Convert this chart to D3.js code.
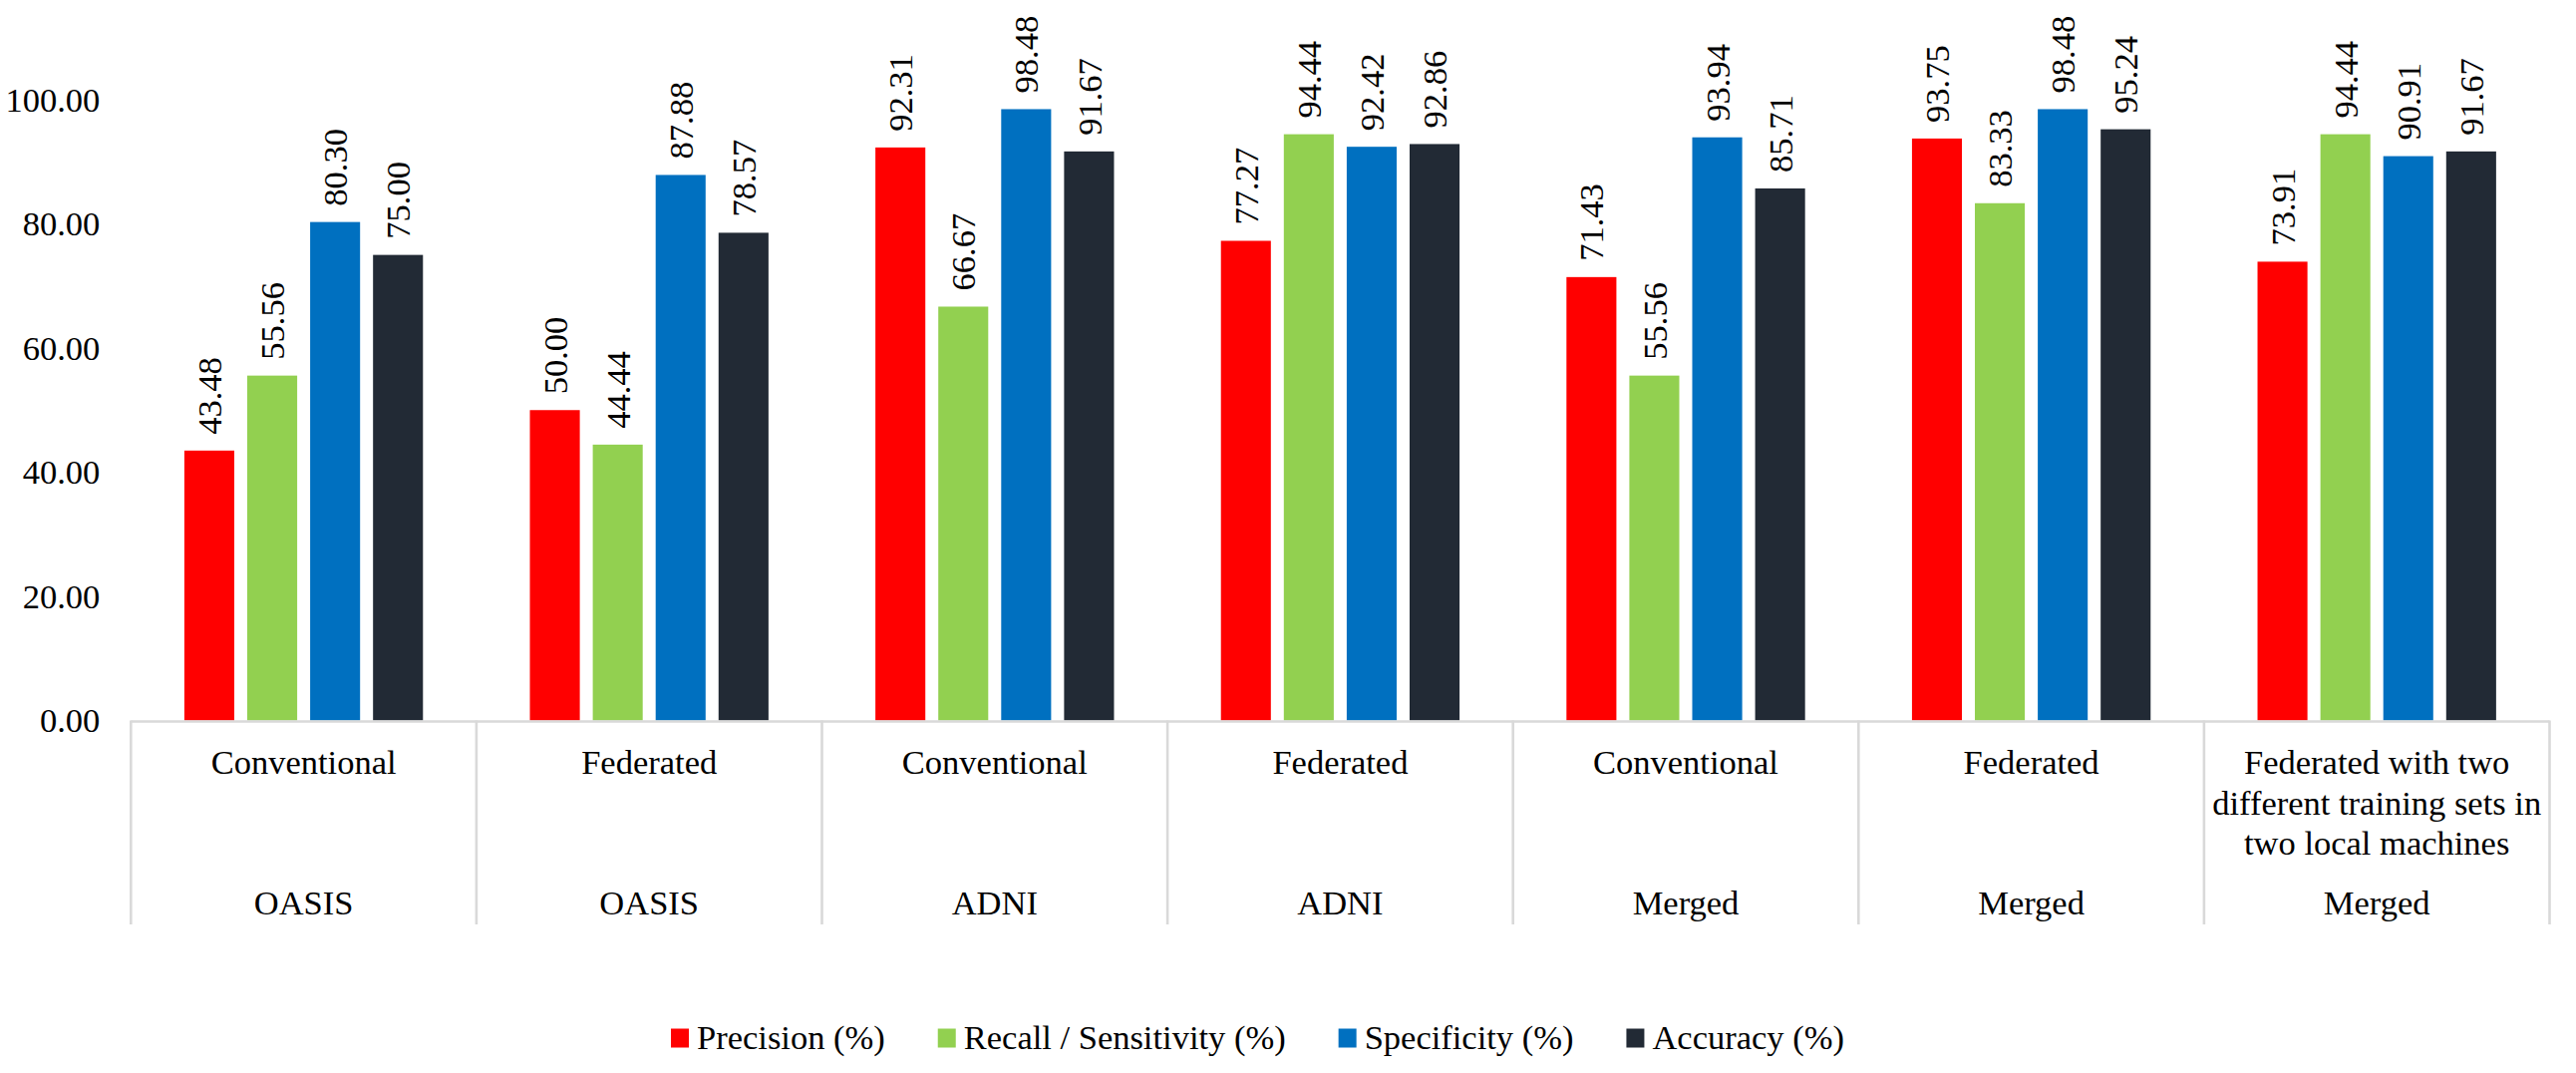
<!DOCTYPE html>
<html>
<head>
<meta charset="utf-8">
<script src="https://cdnjs.cloudflare.com/ajax/libs/d3/7.8.5/d3.min.js"></script>
<style>
  @font-face { font-family: "ChartSerif"; src: local("Liberation Serif"), local("LiberationSerif"), local("Times New Roman"); }
  html, body { margin: 0; padding: 0; background: #fff; }
  svg text { font-family: "Times New Roman", "Liberation Serif", ChartSerif, Tinos, serif; }
</style>
</head>
<body>
<div id="chart"></div>
<script>
// chart values
var methods = ["Conventional", "Federated", "Conventional", "Federated", "Conventional", "Federated",
    "Federated with two different training sets in two local machines"];
var datasets = ["OASIS", "OASIS", "ADNI", "ADNI", "Merged", "Merged", "Merged"];
var seriesNames = ["Precision (%)", "Recall / Sensitivity (%)", "Specificity (%)", "Accuracy (%)"];
var precision   = [43.48, 50.00, 92.31, 77.27, 71.43, 93.75, 73.91];
var recall      = [55.56, 44.44, 66.67, 94.44, 55.56, 83.33, 94.44];
var specificity = [80.30, 87.88, 98.48, 92.42, 93.94, 98.48, 90.91];
var accuracy    = [75.00, 78.57, 91.67, 92.86, 85.71, 95.24, 91.67];
var yTicks = [0, 20, 40, 60, 80, 100];

var seriesValues = [precision, recall, specificity, accuracy];
var colors = ["#FF0000", "#92D050", "#0070C0", "#222A35"];

var WIDTH = 2584, HEIGHT = 1076;
var FONT = 34.5;
var GRID = "#D9D9D9";

var plot = {left: 131.3, right: 2557.5, top: 100, bottom: 722.5};

// text measuring without touching the svg layout
var ctx = document.createElement("canvas").getContext("2d");
ctx.font = FONT + "px 'Times New Roman', 'Liberation Serif', serif";
function textWidth(s) { return ctx.measureText(s).width; }

var svg = d3.select("#chart").append("svg")
    .attr("width", WIDTH)
    .attr("height", HEIGHT)
    .attr("font-family", "Times New Roman")
    .attr("font-size", FONT);

function serif(sel) {
    sel.attr("font-family", "Times New Roman")
       .attr("font-size", FONT)
       .attr("fill", "#000");
}

var x0 = d3.scaleBand()
    .domain(d3.range(methods.length))
    .range([plot.left, plot.right])
    .padding(0);

var x1 = d3.scaleBand()
    .domain(d3.range(seriesNames.length))
    .range([0, x0.bandwidth()])
    .paddingInner(0.206)
    .paddingOuter(0.85);

var y = d3.scaleLinear()
    .domain([0, 100])
    .range([plot.bottom, plot.top]);

// y axis labels
var yAxis = svg.append("g")
    .attr("class", "y-axis")
    .attr("transform", "translate(" + plot.left + ",0)")
    .call(d3.axisLeft(y).tickValues(yTicks).tickSize(0).tickPadding(31).tickFormat(d3.format(".2f")));
yAxis.attr("font-family", "Times New Roman").attr("font-size", FONT);
yAxis.select(".domain").remove();
yAxis.selectAll("text")
    .attr("dy", "0.33em")
    .call(serif);

// bars
var groups = svg.append("g").attr("class", "bars")
    .selectAll("g")
    .data(methods)
    .enter().append("g")
    .attr("transform", function(d, i) { return "translate(" + x0(i) + ",0)"; });

var cells = groups.selectAll("g")
    .data(function(d, i) {
        return seriesValues.map(function(vals, s) { return {s: s, v: vals[i]}; });
    })
    .enter().append("g");

cells.append("rect")
    .attr("x", function(d) { return x1(d.s); })
    .attr("y", function(d) { return y(d.v); })
    .attr("width", x1.bandwidth())
    .attr("height", function(d) { return y(0) - y(d.v); })
    .attr("fill", function(d) { return colors[d.s]; });

cells.append("text")
    .attr("transform", function(d) {
        return "translate(" + (x1(d.s) + x1.bandwidth() / 2) + "," + (y(d.v) - 16) + ") rotate(-90)";
    })
    .attr("dy", "0.35em")
    .attr("text-anchor", "start")
    .call(serif)
    .text(function(d) { return d.v.toFixed(2); });

// category axis: baseline, dividers
var axisG = svg.append("g").attr("class", "cat-axis");
axisG.append("line")
    .attr("x1", plot.left).attr("x2", plot.right)
    .attr("y1", 723.5).attr("y2", 723.5)
    .attr("stroke", GRID).attr("stroke-width", 2.6);

var dividers = d3.range(methods.length + 1).map(function(i) {
    return i < methods.length ? x0(i) : x0(i - 1) + x0.bandwidth();
});
axisG.selectAll("line.div")
    .data(dividers)
    .enter().append("line")
    .attr("class", "div")
    .attr("x1", function(d) { return d; }).attr("x2", function(d) { return d; })
    .attr("y1", 722.5).attr("y2", 927)
    .attr("stroke", GRID).attr("stroke-width", 2.6);

// split a label into lines that fit a group
function wrapLines(s, maxWidth) {
    var words = s.split(/\s+/), lines = [], line = [];
    words.forEach(function(w) {
        var test = line.concat([w]).join(" ");
        if (line.length && textWidth(test) > maxWidth) {
            lines.push(line.join(" "));
            line = [w];
        } else {
            line.push(w);
        }
    });
    lines.push(line.join(" "));
    return lines;
}

axisG.selectAll("text.method")
    .data(methods)
    .enter().append("text")
    .attr("class", "method")
    .attr("x", function(d, i) { return x0(i) + x0.bandwidth() / 2; })
    .attr("y", 776)
    .attr("text-anchor", "middle")
    .call(serif)
    .each(function(d, i) {
        var t = d3.select(this), cx = x0(i) + x0.bandwidth() / 2;
        wrapLines(d, x0.bandwidth() - 8).forEach(function(l, k) {
            t.append("tspan").attr("x", cx).attr("dy", k ? 40.5 : 0).text(l);
        });
    });

axisG.selectAll("text.dataset")
    .data(datasets)
    .enter().append("text")
    .attr("class", "dataset")
    .attr("x", function(d, i) { return x0(i) + x0.bandwidth() / 2; })
    .attr("y", 917)
    .attr("text-anchor", "middle")
    .call(serif)
    .text(function(d) { return d; });

// legend
var legend = svg.append("g").attr("class", "legend")
    .attr("transform", "translate(673,1041)");
var lx = 0;
seriesNames.forEach(function(name, s) {
    var item = legend.append("g").attr("transform", "translate(" + lx + ",0)");
    item.append("rect")
        .attr("x", 0).attr("y", -9.5)
        .attr("width", 18).attr("height", 19)
        .attr("fill", colors[s]);
    item.append("text")
        .attr("x", 26).attr("y", 0)
        .attr("dy", "0.33em")
        .call(serif)
        .text(name);
    lx += 26 + textWidth(name) + 53;
});
</script>
</body>
</html>
